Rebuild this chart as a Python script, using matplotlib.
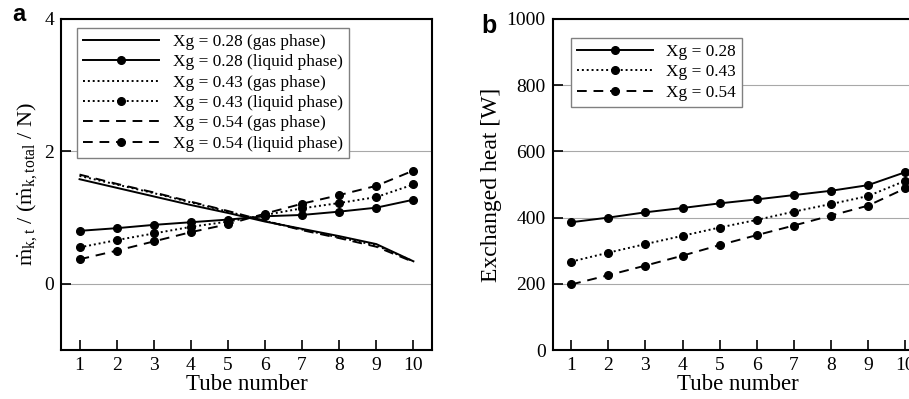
import matplotlib
matplotlib.use("Agg")
import matplotlib.pyplot as plt

plt.rcParams['font.family'] = ['Liberation Serif', 'DejaVu Serif']
plt.rcParams['mathtext.fontset'] = 'custom'
plt.rcParams['mathtext.rm'] = 'Liberation Serif'
plt.rcParams['mathtext.default'] = 'regular'

tubes = [1, 2, 3, 4, 5, 6, 7, 8, 9, 10]

# panel a: normalised mass flow per tube
gas_028 = [1.58, 1.45, 1.32, 1.19, 1.07, 0.94, 0.83, 0.72, 0.60, 0.34]
liq_028 = [0.80, 0.84, 0.89, 0.93, 0.97, 1.02, 1.04, 1.09, 1.15, 1.27]
gas_043 = [1.63, 1.50, 1.37, 1.23, 1.09, 0.95, 0.82, 0.70, 0.58, 0.34]
liq_043 = [0.55, 0.66, 0.76, 0.86, 0.94, 1.04, 1.14, 1.22, 1.31, 1.50]
gas_054 = [1.65, 1.51, 1.38, 1.24, 1.10, 0.95, 0.81, 0.69, 0.56, 0.33]
liq_054 = [0.37, 0.50, 0.64, 0.78, 0.90, 1.06, 1.21, 1.34, 1.48, 1.71]

# panel b: exchanged heat per tube [W]
heat_028 = [386, 400, 416, 429, 443, 455, 468, 481, 498, 537]
heat_043 = [267, 294, 320, 345, 370, 393, 418, 441, 465, 511]
heat_054 = [198, 226, 255, 285, 317, 347, 376, 406, 436, 488]

fig = plt.figure(figsize=(9.09, 3.99), dpi=100)
ax1 = fig.add_axes([0.0671, 0.1228, 0.4081, 0.8296])
ax2 = fig.add_axes([0.6080, 0.1228, 0.4081, 0.8296])

lw = 1.4
ms = 5.5
dotted = (0, (1, 1.5))
dashed = (0, (5, 3.5))

ax1.plot(tubes, gas_028, color='black', lw=lw, linestyle='-', label='Xg = 0.28 (gas phase)')
ax1.plot(tubes, liq_028, color='black', lw=lw, linestyle='-', marker='o', ms=ms, label='Xg = 0.28 (liquid phase)')
ax1.plot(tubes, gas_043, color='black', lw=lw, linestyle=dotted, label='Xg = 0.43 (gas phase)')
ax1.plot(tubes, liq_043, color='black', lw=lw, linestyle=dotted, marker='o', ms=ms, label='Xg = 0.43 (liquid phase)')
ax1.plot(tubes, gas_054, color='black', lw=lw, linestyle=dashed, label='Xg = 0.54 (gas phase)')
ax1.plot(tubes, liq_054, color='black', lw=lw, linestyle=dashed, marker='o', ms=ms, label='Xg = 0.54 (liquid phase)')

ax2.plot(tubes, heat_028, color='black', lw=lw, linestyle='-', marker='o', ms=ms, label='Xg = 0.28')
ax2.plot(tubes, heat_043, color='black', lw=lw, linestyle=dotted, marker='o', ms=ms, label='Xg = 0.43')
ax2.plot(tubes, heat_054, color='black', lw=lw, linestyle=dashed, marker='o', ms=ms, label='Xg = 0.54')

ax1.set_xlim(0.5, 10.5)
ax1.set_ylim(-1, 4)
ax1.set_yticks([0, 2, 4])
ax2.set_xlim(0.5, 10.5)
ax2.set_ylim(0, 1000)
ax2.set_yticks([0, 200, 400, 600, 800, 1000])

for ax in (ax1, ax2):
    ax.set_xticks(tubes)
    ax.tick_params(direction='in', length=7, width=1.2, labelsize=14, colors='black', pad=5)
    ax.yaxis.grid(True, color='#a8a8a8', lw=0.8)
    ax.set_axisbelow(True)
    for s in ax.spines.values():
        s.set_linewidth(1.5)
    ax.set_xlabel('Tube number', fontsize=16.5, labelpad=0)

ax1.set_ylabel(r'$\dot{m}_{k,t}$ / ($\dot{m}_{k,total}$ / N)', fontsize=16, labelpad=4)
ax2.set_ylabel('Exchanged heat [W]', fontsize=17, labelpad=3)

leg_kw = dict(fontsize=12.4, frameon=True, fancybox=False, edgecolor='#808080',
              handlelength=4.4, numpoints=1, borderpad=0.35, labelspacing=0.25,
              handletextpad=0.8, framealpha=1, borderaxespad=0)
l1 = ax1.legend(loc='upper left', bbox_to_anchor=(0.043, 0.973), **leg_kw)
l2 = ax2.legend(loc='upper left', bbox_to_anchor=(0.049, 0.943), **leg_kw)
for l in (l1, l2):
    l.get_frame().set_linewidth(1.0)

fig.text(0.013, 1 - 21 / 399, 'a', fontsize=17, fontweight='bold', family='Liberation Sans', va='baseline')
fig.text(0.529, 1 - 33 / 399, 'b', fontsize=18, fontweight='bold', family='Liberation Sans', va='baseline')

fig.savefig('out.png', dpi=100)
